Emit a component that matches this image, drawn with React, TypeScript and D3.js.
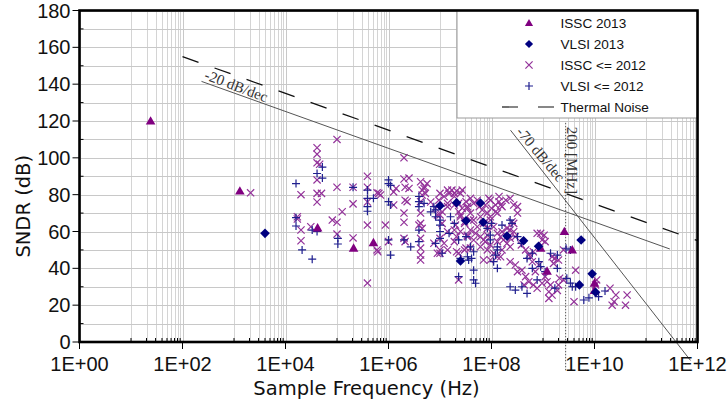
import * as d3 from "d3";

const W = 727;
const H = 402;

// ISSC 2013 (triangles)
const isscNew: [number, number][] = [
  [24, 120], [1.3e3, 82], [4.2e4, 62], [2.1e5, 51], [5.1e5, 54], [9e8, 51],
  [1.2e9, 38.5], [2.6e9, 60], [3.7e9, 50], [1e10, 32], [1e10, 28],
];

// VLSI 2013 (diamonds)
const vlsiNew: [number, number][] = [
  [4e3, 59], [1e7, 74], [2.1e7, 75.6], [3.2e7, 65.8], [6.1e7, 75.5], [6.9e7, 65],
  [2.5e7, 44], [2e8, 57.5], [4.2e8, 55], [8.2e8, 52], [5.5e9, 55.4], [9e9, 37],
  [5.1e9, 31], [1.05e10, 27],
];

// ISSC <= 2012 (x)
const isscOld: [number, number][] = [
  [2.1e3, 81],
  [4.1e4, 105.5], [4.1e4, 102], [4.1e4, 97.3], [4.6e4, 96.5], [4.1e4, 88], [2e4, 80], [4.1e4, 80.7],
  [5e4, 80.7], [4.1e4, 76], [1e5, 110], [1e5, 84], [2.05e5, 84], [3.9e5, 90], [3.9e5, 84], [6e5, 81],
  [2.05e5, 75], [1.26e5, 70.7], [1.7e4, 68], [1.7e4, 66.8], [8.1e4, 66.2], [1e5, 65], [2e4, 60.8],
  [3.1e4, 62.6], [2e4, 55], [1e5, 58.6], [2.05e5, 56.5], [3.9e5, 63.5], [3.9e5, 76], [3.9e5, 32], [6e5, 50],
  [2e6, 100], [2e6, 88.5], [2.5e6, 89], [4.2e6, 87], [5e6, 84.3], [4.5e6, 82.5], [1.4e6, 83.4], [2.1e6, 84],
  [2.5e6, 83.4], [2.1e6, 77], [2.3e6, 76.2], [1.26e6, 81.5], [1.26e6, 74.4], [2e6, 70], [2e6, 65],
  [6.5e5, 80.7], [7e5, 79.8], [8.7e5, 63.5], [4.5e6, 79.8], [4.2e6, 76.2], [4.2e6, 70], [4.2e6, 64.4],
  [3.9e6, 63.5], [4.5e6, 61.7], [4.2e6, 56.3], [4.2e6, 51], [4.2e6, 47.2], [4.2e6, 44.5], [2e6, 56.3],
  [2.1e6, 54.5], [1e6, 54.5], [6.2e5, 49],
  [6.6e6, 76], [8.2e6, 72.6], [1e7, 69], [8.9e6, 69], [7.6e6, 53.6], [8.9e6, 48.2], [1e7, 50], [1e7, 56.3],
  [1.2e7, 79], [1.5e7, 80.7], [1.9e7, 80.7], [2.1e7, 82], [1.4e7, 82.5], [1.1e7, 70.7], [1.1e7, 64.4],
  [1.4e7, 73.5], [1.9e7, 74.4], [2e7, 63.5], [2.5e7, 60], [3.4e7, 58], [2.3e7, 48.2], [2.3e7, 33.7],
  [1.9e7, 54.5], [2.3e7, 75.3], [2.3e7, 70.7], [2.7e7, 72.6], [2.5e7, 69], [3e7, 65.3], [3.4e7, 72.6], [3.2e7, 51],
  [5.6e6, 86], [4.9e6, 83.4], [5.2e6, 80.7], [1e7, 80.7], [9.5e6, 77], [1.7e7, 82.5], [2.5e7, 80.7],
  [2.7e7, 82.5], [1.9e7, 79], [1.4e7, 75.3], [3.2e7, 76.2], [3.9e7, 78], [4.5e7, 75.3], [5.3e7, 77],
  [9.5e7, 77], [1.2e8, 74.4], [1.4e8, 76.2], [3.4e7, 73.5], [3.9e7, 70], [4.5e7, 66.2], [5.3e7, 62.6],
  [3.9e7, 60.8], [4.9e7, 59], [6.1e7, 57.2], [7e7, 55.4], [4.5e7, 55.4], [3.4e7, 57.2], [2.1e7, 57.2],
  [8.3e7, 70], [9.5e7, 66.2], [1.1e8, 62.6], [1.3e8, 59], [1.5e8, 57.2], [1.7e8, 55.4], [2e8, 53.6],
  [2.3e8, 51.7], [2.7e8, 64.4], [2.3e8, 60.8], [3.2e8, 70], [2.9e8, 57.2], [1e8, 72.6], [1.3e8, 70],
  [1.6e8, 73.5], [1.9e7, 60.8], [1.4e7, 59.9], [1.2e7, 53.6], [1.4e7, 50], [1e7, 48.2], [6.1e7, 51.7],
  [8.3e7, 50], [1.1e8, 48.2], [1.5e8, 46.3], [2.1e7, 49], [3e7, 50], [3.9e7, 51], [6.1e7, 68], [7e7, 64.4],
  [8.3e7, 61.7], [3.9e7, 66.2], [3e7, 64.4], [2.5e7, 68], [5.8e7, 73.5], [6.6e7, 71.7], [7.6e7, 74.4],
  [8.9e7, 78], [1.5e8, 74.4], [1.2e8, 70.7], [9.5e7, 68], [1.4e8, 79], [1.9e8, 77], [2.3e8, 78],
  [2.7e8, 74.4], [3.2e8, 73.5], [2.5e8, 65.3], [1.6e8, 59.9], [2e8, 61.7], [2.7e8, 59.9], [2.3e8, 56.3],
  [8.3e7, 58], [7.6e7, 54.5], [9.5e7, 52.7], [1.3e8, 54.5], [1.6e8, 50], [1.3e8, 46.3], [9.5e7, 44.5],
  [7e7, 44.5], [3.8e8, 52.7], [4.6e8, 50], [5.3e8, 47.2], [6.5e8, 49], [6.2e8, 43.6], [9e8, 59],
  [1.05e9, 58], [9.6e8, 55.4], [1.1e9, 54.5], [1.5e9, 46.3], [1.7e9, 45.4], [1.6e9, 42.7], [2.3e8, 43.6],
  [2.9e8, 41.8], [3.2e8, 38.2], [3.9e8, 39], [4.6e8, 35.5], [4.3e8, 31], [5.3e8, 32.7], [6.5e8, 31],
  [7.7e8, 29.2], [9.6e8, 31.9], [1.1e9, 35.5], [1.2e9, 32.7], [1.4e9, 31], [1.3e9, 27.3], [1.5e9, 25.5],
  [2e9, 31], [2.1e9, 34.6], [2.5e9, 33.7], [1.3e9, 23.7], [5.7e8, 46.3], [8.3e8, 41.8], [7.1e8, 38.2],
  [7.7e8, 59], [2.5e9, 50], [2e9, 44.5], [1.9e9, 28], [4.3e9, 39], [4e9, 21.9], [1.1e10, 33.7],
  [1.05e10, 31], [2e10, 29.2], [2.6e10, 25.5], [2.4e10, 21.9], [2.2e10, 20], [4.3e10, 25.5], [4e10, 20],
];

// VLSI <= 2012 (+)
const vlsiOld: [number, number][] = [
  [1.6e4, 86], [5.2e4, 95], [4.1e4, 91.5], [5.2e4, 89], [1.6e4, 63], [1.6e4, 67.5], [3.3e4, 60.8],
  [4.1e4, 60], [2.1e4, 50], [3.3e4, 45], [1.04e5, 56.3], [1.04e5, 53.2], [2.05e5, 84], [3.9e5, 82.5],
  [3.9e5, 78], [3.9e5, 73.5], [3.9e5, 71], [5.1e5, 78], [1e6, 88], [1e6, 86], [1.1e6, 85], [1e6, 76.2],
  [1.1e6, 74.4], [3.9e6, 79], [3.9e6, 76.2], [3.9e6, 73.5], [3.9e6, 60.8], [3.9e6, 54.5], [2e6, 55.4],
  [2.7e6, 51.7], [1.1e6, 47.2], [1e6, 55.4], [8.2e6, 71.7], [8.2e6, 68], [1e7, 66.2], [1e7, 63.5],
  [1e7, 60], [1e7, 56.3], [1.5e7, 59], [8.2e6, 53.6], [1.1e7, 48.2], [1.6e7, 68], [2.3e7, 55.4],
  [3.2e7, 57.2], [2.5e7, 45.4], [2.3e7, 35.5], [3.6e7, 44.5], [7.6e6, 73.5], [6.6e6, 70.7], [1.9e7, 64.4],
  [3.9e7, 51.7], [8.3e7, 61.7], [9.5e7, 55.4], [1.3e8, 51.7], [2.3e8, 66.2], [2.5e8, 64.4], [3.2e8, 57.2],
  [4.9e6, 75.3], [3.4e7, 46.3], [4.5e7, 49], [4.1e7, 45.4], [4.5e7, 39], [4.5e7, 33.7], [4.9e7, 31.9],
  [1e8, 64.4], [1.6e8, 63.5], [9.5e7, 58], [1.3e8, 50], [1.2e8, 47.2], [1.1e8, 43.6], [1.3e8, 40],
  [3.8e8, 53.6], [4.9e8, 45.4], [6.2e8, 48.2], [6.2e8, 40], [8.3e8, 43.6], [9e8, 40.9], [1.4e9, 48.2],
  [1.9e9, 47.2], [1.9e9, 40], [1.7e9, 29.2], [2.3e8, 30], [2.9e8, 28.2], [3.9e8, 30], [4.9e8, 26.4],
  [7.7e8, 33.7], [1.1e9, 38.2], [2.8e9, 50.9], [2.9e9, 34.6], [3.4e9, 32], [3.7e9, 30], [4.3e9, 30],
  [6.2e9, 22.8], [7.8e9, 24], [1.2e10, 24.6], [1.6e10, 27.7], [3.4e9, 50],
];

// reference lines
const thermalLine: [number, number][] = [[1e2, 155], [1e12, 55]];
const jitterLine: [number, number][] = [[2.34e2, 141.5], [2.9e11, 50.5]];
const steepLine: [number, number][] = [[2.34e8, 115], [7.3e11, -10]];
const markerFreq = 2.75e9;
const markerSpan = [119, -16];

const xMajor = [1, 1e2, 1e4, 1e6, 1e8, 1e10, 1e12];
const xTickLabels = ["1E+00", "1E+02", "1E+04", "1E+06", "1E+08", "1E+10", "1E+12"];
const yMajor = [0, 20, 40, 60, 80, 100, 120, 140, 160, 180];
const yMinor = [10, 30, 50, 70, 90, 110, 130, 150, 170];

const legendItems = ["ISSC 2013", "VLSI 2013", "ISSC <= 2012", "VLSI <= 2012", "Thermal Noise"];

const PURPLE = "#800080";
const XPURPLE = "#93329a";
const NAVY = "#000080";
const PLUSNAVY = "#1f1f8f";

const TRI = "M0,-4.8L4.8,3.6H-4.8Z";
const DIA = "M0,-4.8L4.8,0L0,4.8L-4.8,0Z";
const CROSS = "M-3.6,-3.6L3.6,3.6M-3.6,3.6L3.6,-3.6";
const PLUS = "M-4,0H4M0,-4V4";

export default function App() {
  const x = d3.scaleLog().domain([1, 1e12]).range([79.5, 697.5]);
  const y = d3.scaleLinear().domain([0, 180]).range([342, 10.5]);
  const [x0, x1] = x.range();
  const [y0, y1] = y.range();

  // minor log gridlines: 10..90 of every 100x step
  const xMinor: number[] = [];
  for (let k = 0; k < 6; k++) {
    for (let m = 1; m <= 9; m++) xMinor.push(10 * m * Math.pow(100, k));
  }

  const line = d3.line<[number, number]>().x((d) => x(d[0])).y((d) => y(d[1]));

  const sans = "'Liberation Sans', Arial, sans-serif";
  const dejavu = "'DejaVu Sans', Verdana, sans-serif";
  const serif = "'Liberation Serif', 'Times New Roman', serif";

  const jitterAngle = (Math.atan2(y(jitterLine[1][1]) - y(jitterLine[0][1]), x(jitterLine[1][0]) - x(jitterLine[0][0])) * 180) / Math.PI;
  const steepAngle = (Math.atan2(y(steepLine[1][1]) - y(steepLine[0][1]), x(steepLine[1][0]) - x(steepLine[0][0])) * 180) / Math.PI;

  const legX = 457;
  const legY = y1;
  const rowY = (i: number) => legY + 12.5 + i * 21;

  return (
    <div style={{ position: "absolute", left: 0, top: 0 }}>
      <svg width={W} height={H} style={{ display: "block", background: "#fff" }}>
        <defs>
          <clipPath id="plot">
            <rect x={x0} y={y1} width={x1 - x0} height={y0 - y1} />
          </clipPath>
        </defs>

        {/* grid */}
        <g stroke="#d4d4d4" strokeWidth={1}>
          {xMinor.map((v, i) => (
            <line key={"xm" + i} x1={Math.round(x(v)) + 0.5} x2={Math.round(x(v)) + 0.5} y1={y1} y2={y0} />
          ))}
          {xMajor.map((v, i) => (
            <line key={"xM" + i} x1={Math.round(x(v)) + 0.5} x2={Math.round(x(v)) + 0.5} y1={y1} y2={y0} stroke="#c8c8c8" />
          ))}
          {[...yMajor, ...yMinor].map((v, i) => (
            <line key={"y" + i} x1={x0} x2={x1} y1={Math.round(y(v)) + 0.5} y2={Math.round(y(v)) + 0.5} stroke="#c8c8c8" />
          ))}
        </g>

        {/* reference lines */}
        <g clipPath="url(#plot)" fill="none">
          <path d={line(thermalLine) || ""} stroke="#111" strokeWidth={1.3} strokeDasharray="17,17" />
          <path d={line(jitterLine) || ""} stroke="#555" strokeWidth={1} />
        </g>
        <path d={line(steepLine) || ""} stroke="#555" strokeWidth={1} fill="none" />
        <line
          x1={x(markerFreq)} x2={x(markerFreq)} y1={y(markerSpan[0])} y2={y(markerSpan[1])}
          stroke="#555" strokeWidth={1} strokeDasharray="1.5,1.5"
        />

        <text
          transform={`translate(${x(jitterLine[0][0]) + 2},${y(jitterLine[0][1]) - 2.5}) rotate(${jitterAngle + 1})`}
          fontFamily={serif} fontSize={15} fill="#333"
        >-20 dB/dec</text>
        <text
          transform={`translate(${x(steepLine[0][0]) + 5},${y(steepLine[0][1]) + 2}) rotate(${steepAngle - 2})`}
          fontFamily={serif} fontSize={15} fill="#333"
        >-70 dB/dec</text>
        <text
          transform={`translate(${x(markerFreq) + 1.5},${y(markerSpan[0]) + 4}) rotate(90)`}
          fontFamily={serif} fontSize={15} fill="#333"
        >200 [MHz]</text>

        {/* data */}
        <g stroke={XPURPLE} strokeWidth={1.2} fill="none">
          {isscOld.map((d, i) => (
            <path key={"io" + i} d={CROSS} transform={`translate(${x(d[0])},${y(d[1])})`} />
          ))}
        </g>
        <g stroke={PLUSNAVY} strokeWidth={1.2} fill="none">
          {vlsiOld.map((d, i) => (
            <path key={"vo" + i} d={PLUS} transform={`translate(${x(d[0])},${y(d[1])})`} />
          ))}
        </g>
        <g fill={PURPLE}>
          {isscNew.map((d, i) => (
            <path key={"in" + i} d={TRI} transform={`translate(${x(d[0])},${y(d[1])})`} />
          ))}
        </g>
        <g fill={NAVY}>
          {vlsiNew.map((d, i) => (
            <path key={"vn" + i} d={DIA} transform={`translate(${x(d[0])},${y(d[1])})`} />
          ))}
        </g>

        {/* legend */}
        <rect x={legX} y={legY} width={x1 - legX} height={107.5} fill="#fff" stroke="#9a9a9a" strokeWidth={1} />
        <path d={TRI} transform={`translate(529,${rowY(0)}) scale(0.85)`} fill={PURPLE} />
        <path d={DIA} transform={`translate(529,${rowY(1)}) scale(0.85)`} fill={NAVY} />
        <path d={CROSS} transform={`translate(529,${rowY(2)})`} stroke={XPURPLE} strokeWidth={1.2} fill="none" />
        <path d={PLUS} transform={`translate(529,${rowY(3)})`} stroke={PLUSNAVY} strokeWidth={1.2} fill="none" />
        <line x1={502} x2={556} y1={rowY(4)} y2={rowY(4)} stroke="#111" strokeWidth={1.2} strokeDasharray="16,20" />
        {legendItems.map((t, i) => (
          <text key={t} x={560.5} y={rowY(i) + 5} fontFamily={sans} fontSize={13.6} fill="#111">{t}</text>
        ))}

        {/* frame */}
        <rect x={x0} y={y1} width={x1 - x0} height={y0 - y1} fill="none" stroke="#000" strokeWidth={2.6} />

        {/* ticks */}
        <g stroke="#000" strokeWidth={1}>
          {xMajor.map((v, i) => (
            <line key={"tx" + i} x1={x(v)} x2={x(v)} y1={y0} y2={y0 + 7} />
          ))}
          {xMinor.map((v, i) => (
            <line key={"tmx" + i} x1={x(v)} x2={x(v)} y1={y0} y2={y0 - 4} />
          ))}
          {yMajor.map((v, i) => (
            <line key={"ty" + i} x1={x0 - 7} x2={x0} y1={y(v)} y2={y(v)} />
          ))}
          {yMinor.map((v, i) => (
            <line key={"tmy" + i} x1={x0} x2={x0 + 4} y1={y(v)} y2={y(v)} />
          ))}
        </g>

        {/* tick labels */}
        {xMajor.map((v, i) => (
          <text key={"lx" + i} x={x(v)} y={y0 + 29} textAnchor="middle" fontFamily={sans} fontSize={20} fill="#111">
            {xTickLabels[i]}
          </text>
        ))}
        {yMajor.map((v) => (
          <text key={"ly" + v} x={x0 - 9} y={y(v) + 7} textAnchor="end" fontFamily={sans} fontSize={20} fill="#111">
            {v}
          </text>
        ))}

        {/* axis titles */}
        <text x={(x0 + x1) / 2 - 22} y={395} textAnchor="middle" fontFamily={dejavu} fontSize={19.5} fill="#111">
          Sample Frequency (Hz)
        </text>
        <text transform={`translate(30,${(y0 + y1) / 2 + 30}) rotate(-90)`} textAnchor="middle" fontFamily={dejavu} fontSize={19.5} fill="#111">
          SNDR (dB)
        </text>
      </svg>
    </div>
  );
}
